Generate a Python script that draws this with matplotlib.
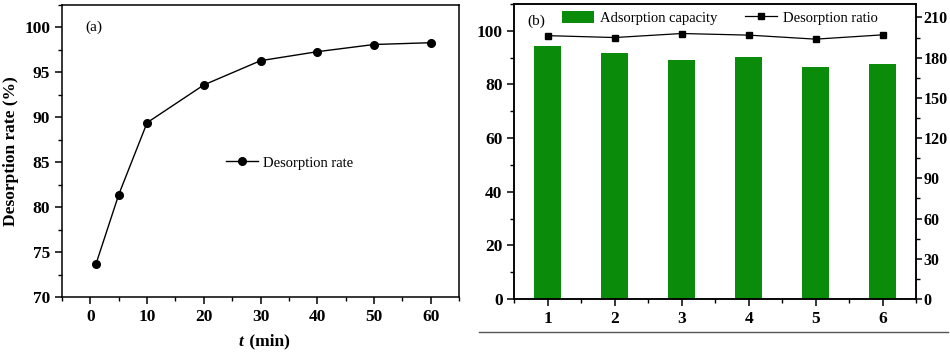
import matplotlib
matplotlib.use("Agg")
from matplotlib import pyplot as plt
from matplotlib.lines import Line2D
from matplotlib.ticker import MultipleLocator

plt.rcParams['font.family'] = ['Liberation Serif', 'DejaVu Serif']
plt.rcParams['axes.linewidth'] = 1.1

# ---- data (a) ----
time_min = [1, 5, 10, 20, 30, 40, 50, 60]
desorption_rate = [73.7, 81.4, 89.4, 93.6, 96.3, 97.3, 98.1, 98.3]

# ---- data (b) ----
cycles = [1, 2, 3, 4, 5, 6]
adsorption_capacity = [94.3, 91.7, 89.3, 90.2, 86.6, 87.7]
desorption_ratio = [98.2, 97.5, 99.0, 98.4, 96.9, 98.5]

green = '#0a8c0a'
fs = 12.5      # tick labels
lfs = 10.5     # legends / panel tags

fig = plt.figure(figsize=(9.5, 3.55), dpi=100)

# ===== (a) =====
ax1 = fig.add_axes([0.0653, 0.1634, 0.4179, 0.8226])
ax1.plot(time_min, desorption_rate, '-o', color='black', lw=1.0, ms=5.5,
         label='Desorption rate')
ax1.set_xlim(-5, 65)
ax1.set_ylim(70, 102.5)
ax1.xaxis.set_major_locator(MultipleLocator(10))
ax1.xaxis.set_minor_locator(MultipleLocator(5))
ax1.yaxis.set_major_locator(MultipleLocator(5))
ax1.yaxis.set_minor_locator(MultipleLocator(2.5))
ax1.tick_params(which='major', direction='out', length=5, width=1.1, labelsize=fs)
ax1.tick_params(which='minor', direction='out', length=3, width=1.0)
for lab in ax1.get_xticklabels() + ax1.get_yticklabels():
    lab.set_fontweight('bold')
ax1.set_ylabel('Desorption rate (%)', fontsize=12.5, fontweight='bold', labelpad=4)
fig.text(0.256, 0.038, 't', fontsize=12.5, fontweight='bold', style='italic',
         ha='right', va='center')
fig.text(0.2575, 0.038, ' (min)', fontsize=12.5, fontweight='bold',
         ha='left', va='center')
ax1.text(0.06, 0.925, '(a)', transform=ax1.transAxes, fontsize=lfs + 0.5,
         ha='left', va='center')
ax1.legend(loc='center left', bbox_to_anchor=(0.413, 0.459), frameon=False,
           fontsize=lfs, borderpad=0, borderaxespad=0, handlelength=2.2,
           handletextpad=0.35)

# ===== (b) =====
ax2 = fig.add_axes([0.5414, 0.1577, 0.4228, 0.831])
bars = ax2.bar(cycles, adsorption_capacity, width=0.4, color=green,
               label='Adsorption capacity')
line, = ax2.plot(cycles, desorption_ratio, '-s', color='black', lw=0.9, ms=4.5,
                 label='Desorption ratio')
ax2.set_xlim(0.5, 6.5)
ax2.set_ylim(0, 110)
ax2.set_xticks(cycles)
ax2.xaxis.set_minor_locator(MultipleLocator(0.5))
ax2.yaxis.set_major_locator(MultipleLocator(20))
ax2.yaxis.set_minor_locator(MultipleLocator(10))
ax2.tick_params(which='major', direction='out', length=5, width=1.1, labelsize=fs)
ax2.tick_params(which='minor', direction='out', length=3, width=1.0)
for lab in ax2.get_xticklabels() + ax2.get_yticklabels():
    lab.set_fontweight('bold')

ax3 = ax2.twinx()
ax3.set_ylim(0, 220)
ax3.yaxis.set_major_locator(MultipleLocator(30))
ax3.yaxis.set_minor_locator(MultipleLocator(15))
ax3.tick_params(which='major', direction='out', length=4, width=1.1,
                labelsize=11.5, pad=1.5)
ax3.tick_params(which='minor', direction='out', length=3, width=1.0)
for lab in ax3.get_yticklabels():
    lab.set_fontweight('bold')

ax2.text(0.032, 0.94, '(b)', transform=ax2.transAxes, fontsize=lfs + 0.5,
         ha='left', va='center')
ax2.legend(handles=[bars, line], loc='center left', bbox_to_anchor=(0.118, 0.953),
           ncol=2, frameon=False, fontsize=lfs, borderpad=0, borderaxespad=0,
           handlelength=2.2, handleheight=0.85, handletextpad=0.4,
           columnspacing=1.9)

# separator line under panel (b)
fig.add_artist(Line2D([0.504, 0.998], [0.066, 0.066], color='#555555', lw=1.0))

fig.savefig('out.png', dpi=100)
